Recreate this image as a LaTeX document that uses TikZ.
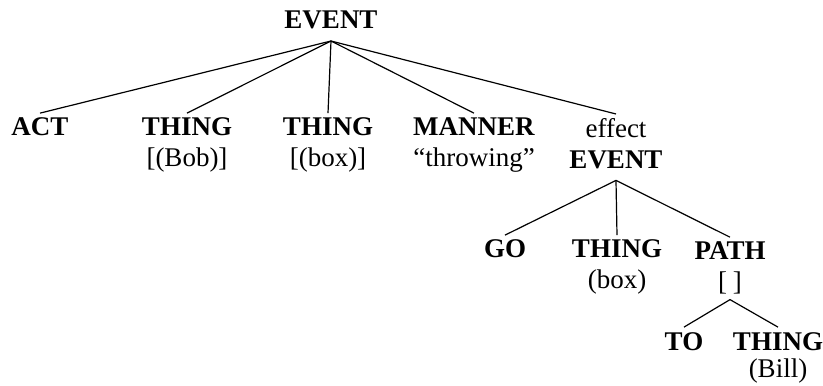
\documentclass[tikz,border=0pt]{standalone}
\usepackage{fontspec}
\setmainfont{Liberation Serif}
\begin{document}
\begin{tikzpicture}[x=1pt,y=-1pt,
  lbl/.style={anchor=base,inner sep=0pt,outer sep=0pt,align=center,font=\fontsize{27}{31}\selectfont},
  edge/.style={line width=1.2pt}]
\useasboundingbox (0,0) rectangle (823,386);
% anchor=base of a multi-line node is the baseline of its last line
\node[lbl] (ev) at (331,28) {\textbf{EVENT}};
\node[lbl] (act) at (40,135) {\textbf{ACT}};
\node[lbl] (th1) at (187,166) {\textbf{THING}\\{[}(Bob)]};
\node[lbl] (th2) at (328,166) {\textbf{THING}\\{[}(box)]};
\node[lbl] (man) at (474,166) {\textbf{MANNER}\\``throwing''};
\node[lbl] (eff) at (616,168) {effect\\\textbf{EVENT}};
\node[lbl] (go) at (505,257) {\textbf{GO}};
\node[lbl] (th3) at (617,288) {\textbf{THING}\\(box)};
\node[lbl] (path) at (730,290) {\textbf{PATH}\\{[}\hspace{6pt}{]}};
\node[lbl] (to) at (684,350) {\textbf{TO}};
\node[lbl,font=\fontsize{27}{27}\selectfont] (th4) at (778,377) {\textbf{THING}\\(Bill)};
\coordinate (a1) at ([yshift=-13pt]ev.base);
\coordinate (a2) at ([yshift=-12pt]eff.south);
\coordinate (a3) at ([yshift=-6pt]path.south);
\foreach \c in {act,th1,th2,man,eff}{\draw[edge] (a1) -- ([yshift=4pt]\c.north);}
\foreach \c in {go,th3,path}{\draw[edge] (a2) -- ([yshift=4pt]\c.north);}
\foreach \c in {to,th4}{\draw[edge] (a3) -- ([yshift=5pt]\c.north);}
\end{tikzpicture}
\end{document}
